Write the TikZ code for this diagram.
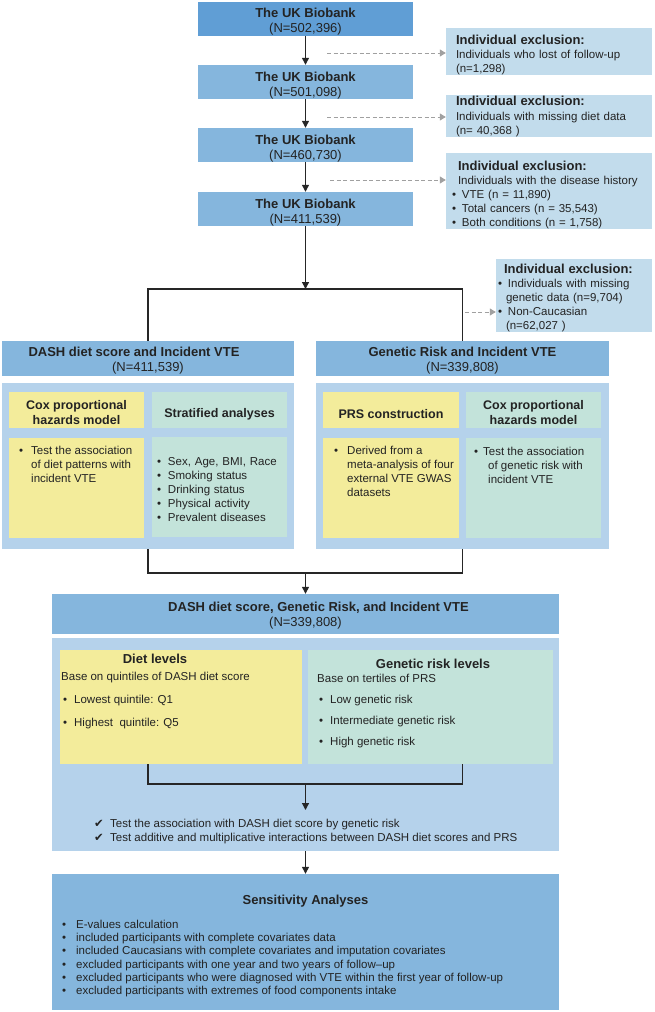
\documentclass[tikz,border=0pt]{standalone}
\usepackage{fontspec}
\setmainfont{Liberation Sans}
\newfontfamily\checkfont{DejaVu Sans}
\usetikzlibrary{arrows.meta}

\definecolor{ukdark}{RGB}{96,158,213}
\definecolor{uklight}{RGB}{133,182,221}
\definecolor{exclblue}{RGB}{194,220,236}
\definecolor{panelblue}{RGB}{181,210,235}
\definecolor{boxyellow}{RGB}{243,236,155}
\definecolor{boxgreen}{RGB}{195,227,218}
\definecolor{dashgray}{RGB}{160,160,160}
\definecolor{txt}{RGB}{35,35,35}

\newcommand{\headfont}{\fontsize{13}{15}\selectfont\bfseries}
\newcommand{\subheadfont}{\fontsize{12.5}{15}\selectfont\bfseries}
\newcommand{\bodyfont}{\fontsize{11.5}{14}\selectfont}
\newcommand{\boxstrut}[1]{\rule{0pt}{#1}}
\newcommand{\itembul}[1][12pt]{\makebox[#1][l]{\textbullet}}
\newcommand{\itemchk}{\makebox[16pt][l]{\checkfont ✔}}

\begin{document}
\begin{tikzpicture}[x=1pt, y=-1pt,
        ukbox/.style={rectangle, fill=uklight, inner sep=0pt, minimum width=215pt, minimum height=34pt, align=center, text=txt, font=\fontsize{13}{15}\selectfont},
        exclbox/.style={rectangle, fill=exclblue, inner xsep=10pt, inner ysep=0pt, text width=186pt, minimum height=42pt, align=left, text=txt, font=\bodyfont},
        header/.style={rectangle, fill=uklight, inner sep=0pt, minimum width=292pt, minimum height=35pt, align=center, text=txt, font=\fontsize{13}{15}\selectfont},
        panel/.style={rectangle, fill=panelblue, inner sep=0pt, minimum width=292pt, minimum height=166pt},
        ytitle/.style={rectangle, fill=boxyellow, inner sep=0pt, minimum width=135pt, minimum height=36pt, align=center, text=txt, font=\subheadfont},
        gtitle/.style={ytitle, fill=boxgreen},
        ybody/.style={rectangle, fill=boxyellow, inner sep=0pt, minimum width=135pt, minimum height=100pt},
        gbody/.style={ybody, fill=boxgreen},
        bodytext/.style={inner sep=0pt, align=left, text=txt, font=\bodyfont},
        arrow/.style={-{Triangle[length=7pt,width=7pt]}, line width=1.2pt, black!85},
        joinline/.style={line width=1.2pt, black!85},
        dasharrow/.style={-{Triangle[length=6pt,width=7pt]}, dashgray, line width=1pt, dash pattern=on 4pt off 2.5pt}
    ]
        \useasboundingbox (0,0) rectangle (654,1012);

        % Cohort selection
        \node[ukbox, fill=ukdark] (ukb1) at (305.5,18.5) {\boxstrut{16pt}\textbf{The UK Biobank}\\(N=502,396)};
        \node[ukbox] (ukb2) at (305.5,82) {\boxstrut{16pt}\textbf{The UK Biobank}\\(N=501,098)};
        \node[ukbox] (ukb3) at (305.5,145) {\boxstrut{16pt}\textbf{The UK Biobank}\\(N=460,730)};
        \node[ukbox] (ukb4) at (305.5,209) {\boxstrut{16pt}\textbf{The UK Biobank}\\(N=411,539)};

        % Exclusions
        \node[exclbox, minimum height=47pt] (ex1) at (549,51.5) {\boxstrut{15.5pt}{\headfont Individual exclusion:}\\Individuals who lost of follow-up\\(n=1,298)};
        \node[exclbox] (ex2) at (549,116) {{\headfont Individual exclusion:}\\[1pt]Individuals with missing diet data\\(n= 40,368 )};
        \node[exclbox, minimum height=76pt, inner xsep=6pt, text width=194pt] (ex3) at (549,191) {\boxstrut{16.5pt}\hspace*{6pt}{\headfont Individual exclusion:}\\\hspace*{6pt}Individuals with the disease history\\\itembul[10pt]VTE (n = 11,890)\\\itembul[10pt]Total cancers (n = 35,543)\\\itembul[10pt]Both conditions (n = 1,758)};
        \node[exclbox, minimum height=73pt, inner xsep=2pt, text width=152pt] (ex4) at (574,295.5) {\boxstrut{15pt}\hspace*{6pt}{\headfont Individual exclusion:}\\\itembul[10pt]Individuals with missing\\\hspace*{8pt}genetic data (n=9,704)\\\itembul[10pt]Non-Caucasian\\\hspace*{8pt}(n=62,027 )};

        % Two analyses
        \node[header] (hd1) at (148,358.5) {\boxstrut{14pt}\textbf{DASH diet score and Incident VTE}\hspace*{28pt}\\(N=411,539)};
        \node[header, minimum width=293pt] (hd2) at (462.5,358.5) {\boxstrut{14pt}\textbf{Genetic Risk and Incident VTE}\\(N=339,808)};
        \node[panel] (pn1) at (148,466) {};
        \node[panel, minimum width=293pt] (pn2) at (462.5,466) {};

        % DASH diet panel
        \node[ytitle] (cox1) at (76.5,410) {\boxstrut{14pt}Cox proportional\\hazards model};
        \node[gtitle] (strat) at (219.5,410) {\boxstrut{17.5pt}Stratified analyses};
        \node[ybody] (cox1b) at (76.5,488) {};
        \node[gbody, inner xsep=5pt, text width=125pt, align=left, text=txt, font=\bodyfont] (stratb) at (219.5,487) {\boxstrut{12.5pt}\itembul[11pt]Sex, Age, BMI, Race\\\itembul[11pt]Smoking status\\\itembul[11pt]Drinking status\\\itembul[11pt]Physical activity\\\itembul[11pt]Prevalent diseases};
        \node[bodytext, anchor=north west] (cox1t) at (19,446) {\itembul Test the association\\\hspace*{12pt}of diet patterns with\\\hspace*{12pt}incident VTE};

        % Genetic risk panel
        \node[ytitle, minimum width=136pt] (prs) at (391,410) {\boxstrut{17.5pt}PRS construction};
        \node[gtitle] (cox2) at (533.5,410) {\boxstrut{14pt}Cox proportional\\hazards model};
        \node[ybody, minimum width=136pt] (prsb) at (391,488) {};
        \node[gbody] (cox2b) at (533.5,488) {};
        \node[bodytext, anchor=north west] (prst) at (334,446) {\itembul[13pt]Derived from a\\\hspace*{13pt}meta-analysis of four\\\hspace*{13pt}external VTE GWAS\\\hspace*{13pt}datasets};
        \node[bodytext, anchor=north west] (cox2t) at (474,447) {\itembul[9pt]Test the association\\\hspace*{14pt}of genetic risk with\\\hspace*{14pt}incident VTE};

        % Joint analysis
        \node[header, minimum width=507pt, minimum height=40pt] (hb) at (305.5,614) {\boxstrut{13pt}\hspace*{26pt}\textbf{DASH diet score, Genetic Risk, and Incident VTE}\\(N=339,808)};
        \node[panel, minimum width=507pt, minimum height=213pt] (pn3) at (305.5,744.5) {};
        \node[ybody, minimum width=242pt, minimum height=114pt] (diet) at (181,707) {};
        \node[gbody, minimum width=245pt, minimum height=114pt] (grisk) at (430.5,707) {};
        \node[font=\headfont, text=txt] (dietti) at (155,659) {Diet levels};
        \node[bodytext, anchor=west] (dietsub) at (61,677.5) {Base on quintiles of DASH diet score};
        \node[bodytext, anchor=north west] (dietlist) at (63,694.5) {\itembul[11pt]Lowest quintile: Q1\\[9pt]\itembul[11pt]Highest\ \ quintile: Q5};
        \node[font=\headfont, text=txt] (riskti) at (433,664) {Genetic risk levels};
        \node[bodytext, anchor=west] (risksub) at (317,678.5) {Base on tertiles of PRS};
        \node[bodytext, anchor=north west] (risklist) at (319,694.5) {\itembul[11pt]Low genetic risk\\[7pt]\itembul[11pt]Intermediate genetic risk\\[7pt]\itembul[11pt]High genetic risk};
        \node[bodytext, anchor=north west] (checks) at (94,819) {\itemchk Test the association with DASH diet score by genetic risk\\\itemchk Test additive and multiplicative interactions between DASH diet scores and PRS};

        % Sensitivity analyses
        \node[header, minimum width=507pt, minimum height=136pt] (sens) at (305.5,942) {};
        \node[font=\headfont, text=txt] (sensti) at (305.5,901) {Sensitivity Analyses};
        \node[bodytext, anchor=north west, font=\fontsize{11.5}{13.2}\selectfont] (senslist) at (62,920) {\itembul[14pt]E-values calculation\\\itembul[14pt]included participants with complete covariates data\\\itembul[14pt]included Caucasians with complete covariates and imputation covariates\\\itembul[14pt]excluded participants with one year and two years of follow–up\\\itembul[14pt]excluded participants who were diagnosed with VTE within the first year of follow-up\\\itembul[14pt]excluded participants with extremes of food components intake};

        % Arrows for cohort selection
        \draw[arrow] (ukb1) -- (ukb2);
        \draw[arrow] (ukb2) -- (ukb3);
        \draw[arrow] (ukb3) -- (ukb4);

        % Arrows to exclusions
        \coordinate (d1) at (327,53);
        \coordinate (d2) at (327,117);
        \coordinate (d3) at (330,180);
        \coordinate (d4) at (465,312);
        \draw[dasharrow] (d1) -- (d1 -| ex1.west);
        \draw[dasharrow] (d2) -- (d2 -| ex2.west);
        \draw[dasharrow] (d3) -- (d3 -| ex3.west);
        \draw[dasharrow] (d4) -- (d4 -| ex4.west);

        % Split and merge
        \coordinate (split) at (305.5,289);
        \draw[joinline] (hd1.north) |- (split) -| (hd2.north);
        \draw[arrow] (ukb4) -- (split);
        \coordinate (merge) at (305.5,573);
        \draw[joinline] (pn1.south) |- (merge) -| (pn2.south);
        \draw[arrow] (merge) -- (hb);

        % Inside joint analysis
        \coordinate (merge2) at (305.5,784);
        \coordinate (chkarrow) at (305.5,810);
        \draw[joinline] (diet.south -| pn1.south) |- (merge2) -| (grisk.south -| pn2.south);
        \draw[arrow] (merge2) -- (chkarrow);

        % To sensitivity analyses
        \draw[arrow] (pn3) -- (sens);

    \end{tikzpicture}
\end{document}
